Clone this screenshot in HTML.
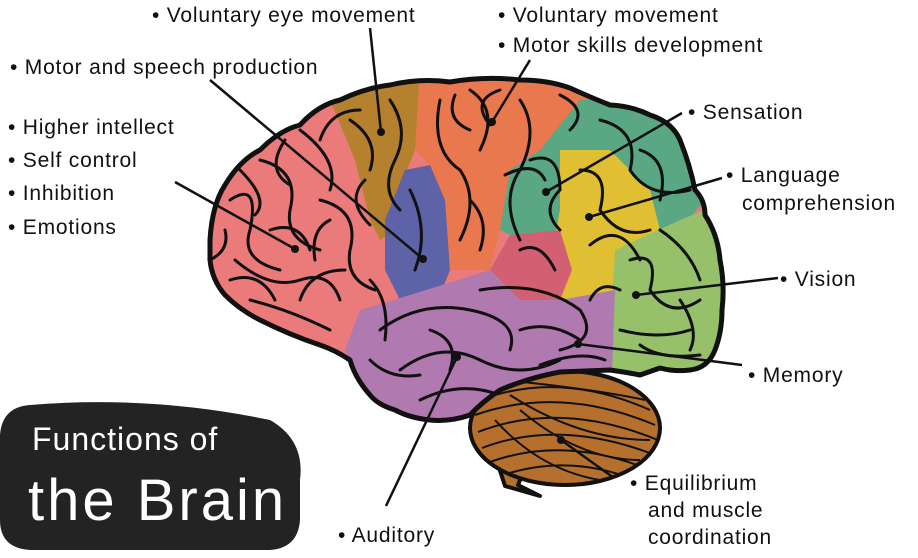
<!DOCTYPE html>
<html><head><meta charset="utf-8"><style>
html,body{margin:0;padding:0;background:#fff;width:918px;height:558px;overflow:hidden}
svg{display:block}
text{font-family:"Liberation Sans",sans-serif;fill:#111}
.l{font-size:21px;letter-spacing:0.8px}
</style></head><body>
<svg width="918" height="558" viewBox="0 0 918 558" xmlns="http://www.w3.org/2000/svg">
<defs>
<clipPath id="cb"><path id="cbp" d="M210,240 Q212,205 225,185 Q240,160 260,150 Q280,130 300,125 Q318,105 340,100 Q365,88 390,85 Q420,78 450,82 Q485,76 520,80 Q548,80 570,88 Q592,98 610,105 Q632,106 650,115 Q672,122 680,140 Q690,165 695,190 Q705,200 705,215 Q718,235 720,260 Q725,285 722,310 Q722,332 715,350 Q708,368 690,370 Q675,372 660,368 L640,375 Q625,372 610,370 L560,372 Q528,378 500,390 Q482,402 470,415 Q450,422 430,420 Q410,418 395,410 Q378,405 370,395 Q355,378 350,360 Q335,350 320,345 Q290,335 260,320 Q240,310 225,295 Q212,280 210,260Z"/></clipPath>
<clipPath id="cer"><ellipse cx="565" cy="428" rx="95" ry="57"/></clipPath>
</defs>
<!-- brainstem -->
<path d="M470,390 L525,392 L532,450 L518,485 L540,496 L505,486 L490,440Z" fill="#b5702e" stroke="#111" stroke-width="4" stroke-linejoin="round"/>
<!-- cerebellum -->
<ellipse cx="565" cy="428" rx="95" ry="57" fill="#b5702e" stroke="#111" stroke-width="4"/>
<g clip-path="url(#cer)" stroke="#111" stroke-width="2" fill="none">
<path d="M480,400 Q560,370 650,410"/><path d="M475,415 Q560,385 655,425"/><path d="M478,432 Q560,400 658,440"/><path d="M482,448 Q560,418 655,455"/><path d="M490,462 Q565,435 650,470"/><path d="M500,476 Q570,452 640,482"/><path d="M510,395 Q580,440 650,440"/><path d="M505,380 Q600,390 645,400"/><path d="M495,420 Q540,470 600,480"/><path d="M520,410 Q580,460 640,460"/>
</g>
<!-- cerebrum -->
<g clip-path="url(#cb)">
<rect x="200" y="70" width="530" height="360" fill="#ea7b7a"/>
<polygon points="340,70 425,70 415,150 405,175 395,230 380,240 370,220 355,160 330,100" fill="#b5812f"/>
<polygon points="420,70 580,70 600,110 580,130 520,160 500,230 490,270 450,270 445,200 430,165 415,150" fill="#e9784f"/>
<polygon points="405,170 430,165 445,200 450,270 440,295 400,300 385,270 385,220" fill="#5d63a6"/>
<polygon points="580,100 650,100 690,140 705,200 680,230 620,240 560,235 520,240 500,230 510,170 540,150" fill="#5aa783"/>
<polygon points="560,150 610,150 650,190 660,230 650,270 620,290 560,300 550,260 560,210" fill="#e0c032"/>
<polygon points="615,250 680,220 705,210 730,260 730,320 720,380 690,380 612,368 612,300" fill="#96c06a"/>
<polygon points="490,270 510,235 560,230 572,270 560,300 520,300" fill="#d25f72"/>
<polygon points="345,350 360,310 410,295 490,270 520,300 560,300 615,290 612,372 560,372 500,390 470,415 430,425 395,415 370,400" fill="#b07ab0"/>
<g stroke="#111" stroke-width="3" fill="none" stroke-linecap="round">
<path d="M230,200 Q260,180 250,230 Q240,260 280,270"/><path d="M260,160 Q300,170 290,210 Q285,240 320,250"/><path d="M300,130 Q340,160 330,190"/><path d="M235,260 Q270,290 300,280 Q330,270 340,300"/><path d="M250,300 Q290,310 330,330"/><path d="M320,200 Q360,210 350,250 Q345,280 375,290"/><path d="M270,230 Q300,220 310,250"/><path d="M350,120 Q380,140 370,170"/><path d="M390,100 Q410,130 395,160 Q380,190 400,210"/><path d="M440,100 Q430,150 460,170 Q480,200 460,240"/><path d="M470,90 Q500,110 480,150"/><path d="M520,100 Q540,130 520,170 Q500,200 520,240"/><path d="M560,95 Q590,110 570,130"/><path d="M410,190 Q430,230 415,270"/><path d="M530,160 Q560,150 560,190 Q540,210 560,230"/><path d="M600,120 Q640,130 630,170 Q650,200 690,190"/><path d="M580,170 Q610,170 600,210 Q620,240 650,230"/><path d="M630,260 Q660,250 650,290 Q670,320 700,300"/><path d="M620,330 Q660,340 690,330"/><path d="M660,230 Q690,250 700,280"/><path d="M380,330 Q420,300 470,310 Q520,320 510,350"/><path d="M400,370 Q440,340 480,360 Q520,380 560,360"/><path d="M480,290 Q540,280 580,310 Q600,340 560,350"/><path d="M420,400 Q460,380 500,395"/><path d="M520,250 Q540,240 555,270"/><path d="M210,260 Q230,250 225,230"/><path d="M370,280 Q390,300 385,340"/>
<path d="M240,170 Q270,200 255,215"/><path d="M285,140 Q265,170 290,185"/><path d="M230,280 Q260,270 275,300"/><path d="M300,300 Q310,270 345,270"/><path d="M320,140 Q330,110 360,110"/><path d="M365,180 Q345,200 370,225"/><path d="M455,95 Q445,120 470,130"/><path d="M500,90 Q470,100 490,125"/><path d="M545,180 Q535,160 505,175"/><path d="M590,245 Q620,220 640,260"/><path d="M640,150 Q670,160 660,200"/><path d="M680,300 Q700,330 690,350"/><path d="M640,345 Q660,360 700,355"/><path d="M430,330 Q460,340 450,370"/><path d="M520,330 Q550,320 580,340"/><path d="M370,360 Q390,380 420,375"/><path d="M540,365 Q580,350 605,360"/><path d="M590,300 Q600,280 620,290"/><path d="M330,220 Q310,230 315,260"/><path d="M470,200 Q490,220 480,250"/></g>
</g>
<use href="#cbp" fill="none" stroke="#111" stroke-width="5" stroke-linejoin="round"/>
<!-- connectors -->
<g stroke="#111" stroke-width="2.5" fill="none">
<line x1="370" y1="28" x2="381" y2="132"/>
<line x1="210" y1="80" x2="423" y2="259"/>
<line x1="175" y1="182" x2="295" y2="249"/>
<line x1="530" y1="60" x2="492" y2="122"/>
<line x1="682" y1="113" x2="546" y2="192"/>
<line x1="722" y1="178" x2="589" y2="217"/>
<line x1="778" y1="278" x2="636" y2="295"/>
<line x1="742" y1="365" x2="578" y2="344"/>
<line x1="614" y1="478" x2="561" y2="440"/>
<line x1="386" y1="506" x2="457" y2="357"/>
</g>
<g fill="#111">
<circle cx="381" cy="132" r="4"/><circle cx="423" cy="259" r="4"/><circle cx="295" cy="249" r="4"/><circle cx="492" cy="122" r="4"/><circle cx="546" cy="192" r="4"/><circle cx="589" cy="217" r="4"/><circle cx="636" cy="295" r="4"/><circle cx="578" cy="344" r="4"/><circle cx="561" cy="440" r="4"/><circle cx="457" cy="357" r="4"/>
</g>
<!-- labels -->
<text class="l" x="152" y="22">• Voluntary eye movement</text>
<text class="l" x="10" y="74">• Motor and speech production</text>
<text class="l" x="8" y="134">• Higher intellect</text>
<text class="l" x="8" y="167">• Self control</text>
<text class="l" x="8" y="200">• Inhibition</text>
<text class="l" x="8" y="234">• Emotions</text>
<text class="l" x="498" y="22">• Voluntary movement</text>
<text class="l" x="498" y="52">• Motor skills development</text>
<text class="l" x="688" y="119">• Sensation</text>
<text class="l" x="726" y="182">• Language</text>
<text class="l" x="742" y="210">comprehension</text>
<text class="l" x="780" y="286">• Vision</text>
<text class="l" x="748" y="382">• Memory</text>
<text class="l" x="630" y="490">• Equilibrium</text>
<text class="l" x="648" y="517">and muscle</text>
<text class="l" x="648" y="544">coordination</text>
<text class="l" x="338" y="542">• Auditory</text>
<!-- title -->
<path d="M30,405 Q150,395 270,420 Q305,440 300,480 L300,520 Q298,548 270,550 L30,550 Q0,548 0,520 L0,435 Q2,407 30,405Z" fill="#232323"/>
<text x="32" y="450" style="font-size:32px;fill:#fff;letter-spacing:1px">Functions of</text>
<text x="28" y="520" style="font-size:58px;fill:#fff;letter-spacing:3px">the Brain</text>
</svg>
</body></html>
